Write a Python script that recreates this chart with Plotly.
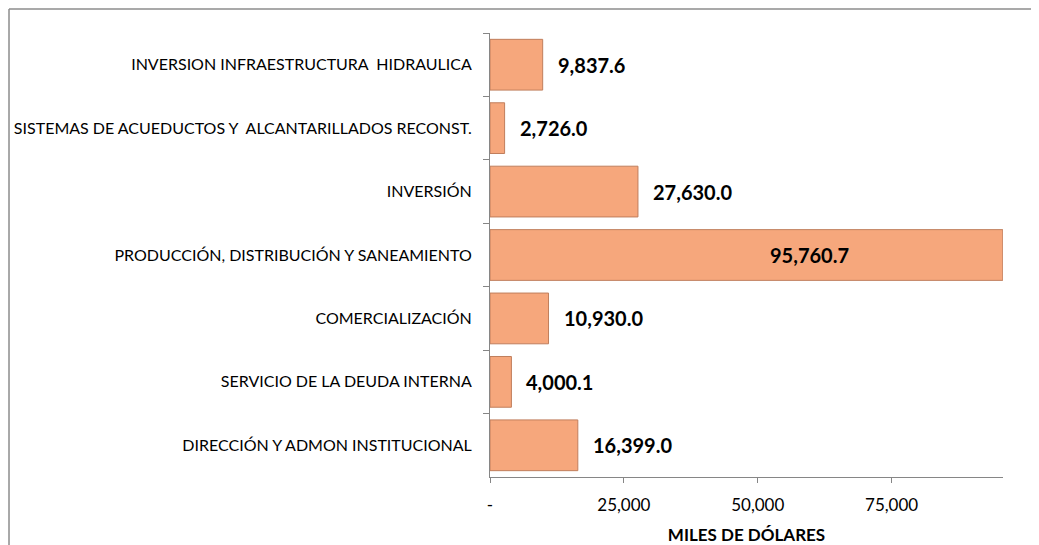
import plotly.graph_objects as go

# Categories, top to bottom as shown
categorias = [
    "INVERSION INFRAESTRUCTURA\u00a0 HIDRAULICA",
    "SISTEMAS DE ACUEDUCTOS Y\u00a0 ALCANTARILLADOS RECONST.",
    "INVERSIÓN",
    "PRODUCCIÓN, DISTRIBUCIÓN Y SANEAMIENTO",
    "COMERCIALIZACIÓN",
    "SERVICIO DE LA DEUDA INTERNA",
    "DIRECCIÓN Y ADMON INSTITUCIONAL",
]
montos = [9837.6, 2726.0, 27630.0, 95760.7, 10930.0, 4000.1, 16399.0]

x_ticks = [0, 25000, 50000, 75000]
x_tick_labels = ["-", "25,000", "50,000", "75,000"]

BAR = "#F6A77C"
EDGE = "#C07E5C"
AXIS = "#868686"
BORDER = "#8C8C8C"

fig = go.Figure()
fig.add_trace(go.Bar(
    y=categorias,
    x=montos,
    orientation="h",
    marker=dict(color=BAR, line=dict(color=EDGE, width=1)),
    width=0.8,
    hoverinfo="x+y",
))

# value labels: outside the bar end, except the largest one which sits inside
vmax = max(montos)
for cat, v in zip(categorias, montos):
    inside = v == vmax
    fig.add_annotation(
        x=v, y=cat, xref="x", yref="y",
        text=f"<b>{v:,.1f}</b>",
        showarrow=False,
        xanchor="right" if inside else "left",
        xshift=-152 if inside else 13,
        font=dict(family="Lato", size=20, color="#000000"),
    )

# outer chart border: only top and left edges are visible in the crop
fig.add_shape(type="line", xref="paper", yref="paper",
              x0=-0.9376, x1=1.07, y0=1.054, y1=1.054,
              line=dict(color=BORDER, width=1.5))
fig.add_shape(type="line", xref="paper", yref="paper",
              x0=-0.9376, x1=-0.9376, y0=-0.2, y1=1.054,
              line=dict(color=BORDER, width=1.5))

fig.update_layout(
    width=1031, height=537,
    margin=dict(l=482, r=36, t=25, b=68),
    paper_bgcolor="white",
    plot_bgcolor="white",
    showlegend=False,
)

fig.update_yaxes(
    autorange="reversed",
    automargin=False,
    showline=True, linecolor=AXIS, linewidth=1,
    ticks="outside", tickson="boundaries", ticklen=6, tickcolor=AXIS,
    tickfont=dict(family="Lato", size=16, color="#000000"),
    ticklabelstandoff=14,
    showgrid=False,
)

fig.update_xaxes(
    range=[0, 95800],
    automargin=False,
    tickvals=x_ticks, ticktext=x_tick_labels,
    showline=True, linecolor=AXIS, linewidth=1,
    ticks="outside", ticklen=5, tickcolor=AXIS,
    tickfont=dict(family="Lato", size=17, color="#000000"),
    ticklabelstandoff=8,
    showgrid=False, zeroline=False,
    title=dict(text="<b>MILES DE DÓLARES</b>",
               font=dict(family="Lato", size=17, color="#000000"),
               standoff=14),
)

# hide page scrollbars (the figure fills the whole window)
fig.write_html("out.html", post_script="document.body.style.overflow='hidden';")
